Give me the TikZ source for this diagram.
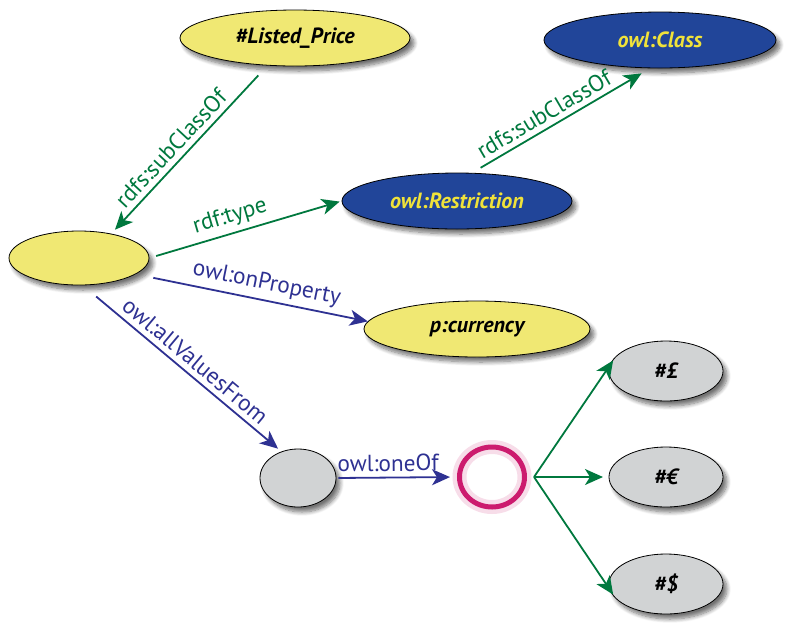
\documentclass[tikz,border=0pt]{standalone}
\usepackage{fontspec}
\setmainfont{PT Sans}
\usetikzlibrary{shapes.geometric,shadows.blur,arrows.meta}

\definecolor{propgreen}{RGB}{0,120,62}
\definecolor{propblue}{RGB}{46,49,146}
\definecolor{clsyellow}{RGB}{240,232,115}
\definecolor{owlblue}{RGB}{33,69,153}
\definecolor{owltext}{RGB}{240,226,58}
\definecolor{litgrey}{RGB}{209,211,212}
\definecolor{listpink}{RGB}{204,27,110}

\tikzset{
  res/.style={ellipse, draw, inner sep=0pt, font=\fontsize{11}{13}\selectfont\bfseries\itshape,
    blur shadow={shadow xshift=2pt, shadow yshift=-2.5pt, shadow opacity=55, shadow blur steps=8}},
  cls/.style={res, fill=clsyellow},
  owlcls/.style={res, fill=owlblue, text=owltext},
  lit/.style={res, fill=litgrey},
  prop/.style={-{Stealth[length=9pt,width=8pt,inset=2.5pt]}, line width=0.9pt},
  greenprop/.style={prop, color=propgreen},
  blueprop/.style={prop, color=propblue},
  lbl/.style={sloped, above, inner sep=2.6pt, font=\fontsize{11.6}{14}\selectfont}
}

\begin{document}
\begin{tikzpicture}[x=0.5pt, y=-0.5pt]
  \useasboundingbox (0,0) rectangle (800,639);
  % classes
  \node[cls, minimum width=115pt, minimum height=28pt] (listed) at (295,38) {\#Listed\_Price};
  \node[owlcls, minimum width=116pt, minimum height=28pt] (owlclass) at (660,40) {owl:Class};
  \node[owlcls, minimum width=115pt, minimum height=28pt] (restr) at (457,201) {owl:Restriction};
  \node[cls, minimum width=70pt, minimum height=27pt] (anon) at (79,258) {};
  \node[cls, minimum width=113pt, minimum height=28pt] (currency) at (477,329) {p:currency};
  \node[lit, minimum width=38pt, minimum height=29pt] (range) at (298,478) {};
  % the list
  \node[ellipse, draw=listpink, line width=2.5pt, minimum width=32.5pt, minimum height=30pt,
    preaction={draw=listpink!15, line width=7pt}] (list) at (492,477) {};
  \coordinate (fork) at ([xshift=3.5pt]list.east);
  \foreach \name/\txt/\y/\ang in {pound/£/371/163, euro/€/477/180, dollar/\$/584/197} {
    \node[lit, minimum width=57pt, minimum height=30pt] (\name) at (666,\y) {\#\txt};
    \draw[greenprop, shorten >=2.8pt] (fork) -- (\name.\ang);
  }
  % properties
  \draw[greenprop, shorten <=6.7pt, shorten >=2.7pt] (listed.225) -- node[lbl, pos=0.55] {rdfs:subClassOf} (anon.37);
  \draw[greenprop, shorten <=3.5pt, shorten >=1pt] (anon.east) -- node[lbl, pos=0.445] {rdf:type} (restr.west);
  \draw[greenprop, shorten <=5pt, shorten >=5pt] (restr.62) -- node[lbl, pos=0.445] {rdfs:subClassOf} (owlclass.251);
  \draw[blueprop, shorten <=9pt] (anon.-16) -- node[lbl, pos=0.55] {owl:onProperty} (currency.176);
  \draw[blueprop, shorten <=8.7pt, shorten >=2.2pt] (anon.278) -- node[lbl, pos=0.52] {owl:allValuesFrom} (range.122);
  \draw[blueprop, shorten <=1pt, shorten >=3.5pt] (range.east) -- node[lbl, pos=0.43] {owl:oneOf} (list.west);
\end{tikzpicture}
\end{document}
